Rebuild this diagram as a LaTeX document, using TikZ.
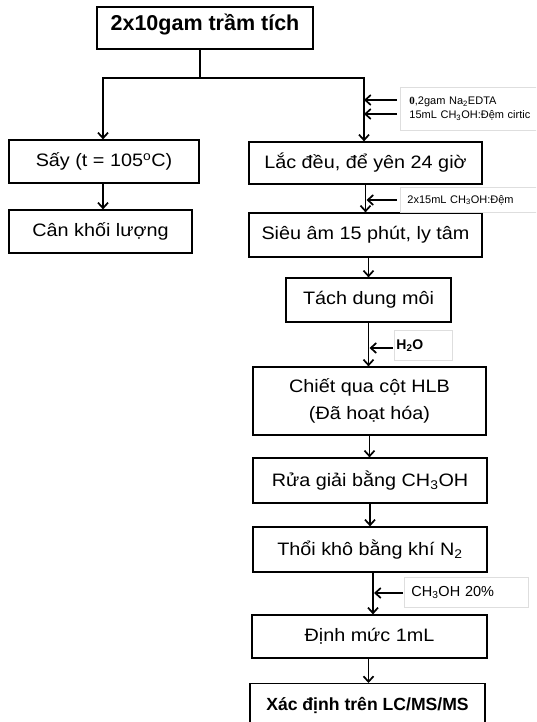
\documentclass[tikz,border=0pt]{standalone}
\usepackage{fontspec}
\usepackage{graphicx}
\setmainfont{Liberation Sans}
\newfontfamily\serifface{Liberation Serif}
\usetikzlibrary{arrows.meta}
\newcommand{\wx}[1]{\scalebox{1.1}[1]{#1}}
\tikzset{
  mainbox/.style={draw=black, line width=1.2pt, inner sep=0pt, align=center,
    font=\fontsize{18}{27}\selectfont},
  lbl/.style={draw=black!13, line width=0.8pt, inner ysep=0pt, inner xsep=0pt,
    align=left, anchor=north west},
  conn/.style={line width=1.9pt},
  arr/.style={line width=1.9pt, -{Straight Barb[length=5.5pt,width=10pt,line width=1.7pt]}},
}
\begin{document}
\begin{tikzpicture}[x=1pt,y=-1pt]
\useasboundingbox (0,0) rectangle (536,722);
\clip (0,0) rectangle (536,722);
\fill[white] (0,0) rectangle (536,722);

% boxes
\node[mainbox, minimum width=216pt, minimum height=42pt, text depth=12pt,
  font=\fontsize{21.5}{26}\selectfont\bfseries] (top) at (205,28) {2x10gam trầm tích};
\node[mainbox, minimum width=190pt, minimum height=43pt] (say) at (104,161.5) {\wx{Sấy (t = 105\textsuperscript{o}C)}};
\node[mainbox, minimum width=183pt, minimum height=43pt] (can) at (100.5,231.5) {\wx{Cân khối lượng}};
\node[mainbox, minimum width=233pt, minimum height=42pt] (lac) at (365.5,163) {\wx{Lắc đều, để yên 24 giờ}};
\node[mainbox, minimum width=233pt, minimum height=44pt] (sieu) at (365.5,235) {\wx{Siêu âm 15 phút, ly tâm}};
\node[mainbox, minimum width=165pt, minimum height=44pt] (tach) at (368.5,300) {\wx{Tách dung môi}};
\node[mainbox, minimum width=233pt, minimum height=68pt] (chiet) at (369.5,401) {\wx{Chiết qua cột HLB}\\\wx{(Đã hoạt hóa)}};
\node[mainbox, minimum width=234pt, minimum height=45pt] (rua) at (370,480.5) {\wx{Rửa giải bằng CH\textsubscript{3}OH}};
\node[mainbox, minimum width=234pt, minimum height=45pt] (thoi) at (370,549.5) {\wx{Thổi khô bằng khí N\textsubscript{2}}};
\node[mainbox, minimum width=235pt, minimum height=43pt] (dinh) at (369.5,636.5) {\wx{Định mức 1mL}};
\node[mainbox, minimum width=235pt, minimum height=44pt, anchor=north,
  font=\fontsize{17.6}{22}\selectfont\bfseries] (xac) at (367.5,683) {Xác định trên LC/MS/MS};

% side labels
\node[lbl, minimum width=140pt, minimum height=43pt, text width=140pt,
  font=\fontsize{11}{14}\selectfont] (l1) at (400,87)
  {\hspace*{9pt}{\serifface\bfseries 0},2gam Na\textsubscript{2}EDTA\\\hspace*{9pt}15mL CH\textsubscript{3}OH:Đệm cirtic};
\node[lbl, minimum width=140pt, minimum height=25pt, text width=140pt,
  font=\fontsize{11}{14}\selectfont] (l2) at (400,187)
  {\hspace*{7pt}2x15mL CH\textsubscript{3}OH:Đệm};
\node[lbl, minimum width=58pt, minimum height=30pt, text width=58pt,
  font=\fontsize{14}{16}\selectfont\bfseries] (l3) at (394,330)
  {\hspace*{2pt}H\textsubscript{2}O};
\node[lbl, minimum width=124pt, minimum height=30pt, text width=124pt,
  font=\fontsize{14.5}{17}\selectfont] (l4) at (404,577)
  {\hspace*{7pt}CH\textsubscript{3}OH 20\%};

% junction
\coordinate (j) at (200,78);
\coordinate (jl) at (103,78);
\coordinate (jr) at (364,78);
\draw[conn] (top.south -| j) -- (j);
\draw[conn] ([xshift=-0.95pt]jl) -- ([xshift=0.95pt]jr);
\draw[arr] (jl) -- (jl |- say.north);
\draw[arr] (jr) -- (jr |- lac.north);
\draw[arr] (say.south -| jl) -- (jl |- can.north);

% right column
\draw[arr] (lac.south) -- (sieu.north);
\draw[arr] (sieu.south -| tach) -- (tach.north);
\draw[arr] (tach.south) -- (chiet.north -| tach);
\draw[arr] (chiet.south) -- (rua.north -| chiet);
\draw[arr] (rua.south) -- (thoi.north);
\draw[arr] ([xshift=3pt]thoi.south) -- ([xshift=3.5pt]dinh.north);
\draw[arr] ([xshift=-1pt]dinh.south) -- ([xshift=1pt]xac.north);

% side arrows
\coordinate (s1) at (397,100);
\coordinate (s2) at (397,114);
\draw[arr] (s1) -- (s1 -| jr);
\draw[arr] (s2) -- (s2 -| jr);
\coordinate (s3) at (397,200);
\draw[arr] (s3) -- ([xshift=1pt]s3 -| lac);
\coordinate (s4) at (393,348);
\draw[arr] (s4) -- ([xshift=1pt]s4 -| tach);
\coordinate (s5) at (403,593);
\draw[arr] (s5) -- ([xshift=4pt]s5 -| thoi);
\end{tikzpicture}
\end{document}
